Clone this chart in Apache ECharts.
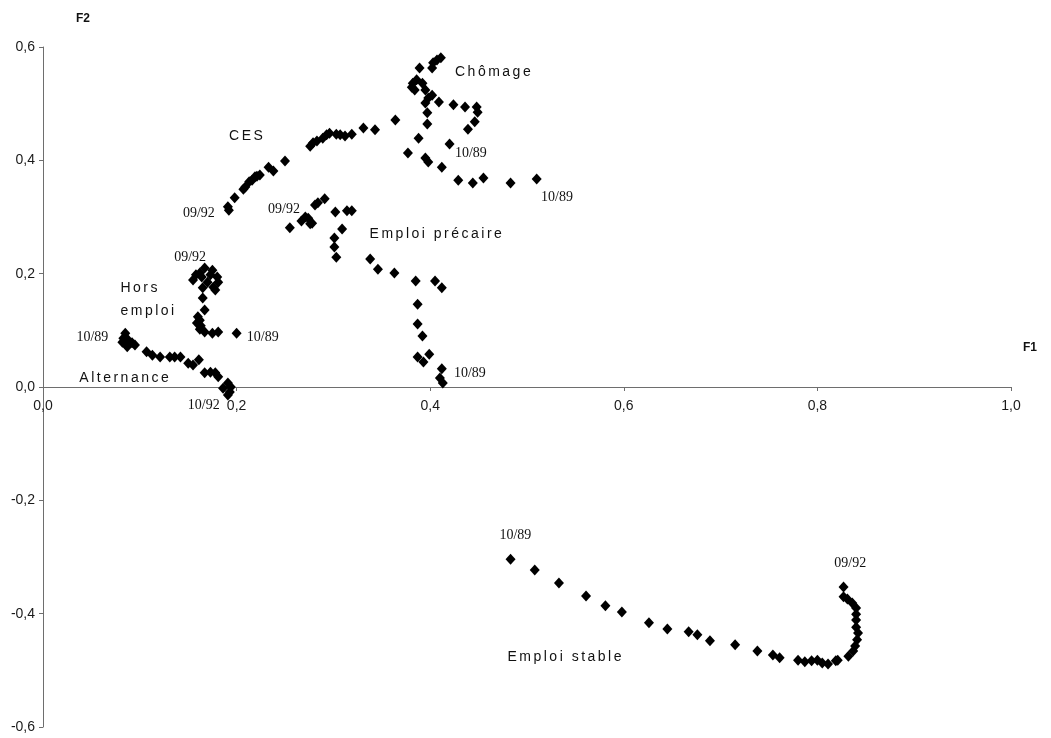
<!DOCTYPE html>
<html>
<head>
<meta charset="utf-8">
<script src="https://cdn.jsdelivr.net/npm/echarts@6/dist/echarts.min.js"></script>
<style>
  html, body { margin: 0; padding: 0; background: #fff; }
  #chart { width: 1051px; height: 738px; }
</style>
</head>
<body>
<div id="chart"></div>
<script>
// Axis ticks (F1 horizontal, F2 vertical)
const xTicks = [0, 0.2, 0.4, 0.6, 0.8, 1.0];
const yTicks = [-0.6, -0.4, -0.2, 0, 0.2, 0.4, 0.6];

// Monthly trajectories 10/89 -> 09/92, coordinates on the factorial plane [F1, F2]
const chomage = [
  [0.420, 0.429], [0.439, 0.455], [0.446, 0.468], [0.449, 0.485], [0.448, 0.494],
  [0.436, 0.494], [0.424, 0.498], [0.409, 0.503], [0.397, 0.464], [0.397, 0.484],
  [0.395, 0.501], [0.398, 0.510], [0.402, 0.515], [0.395, 0.524], [0.384, 0.524],
  [0.381, 0.529], [0.382, 0.536], [0.386, 0.542], [0.392, 0.536], [0.389, 0.563],
  [0.402, 0.563], [0.403, 0.572], [0.407, 0.577], [0.411, 0.581]
];
const ces = [
  [0.510, 0.367], [0.483, 0.360], [0.455, 0.369], [0.444, 0.360], [0.429, 0.365],
  [0.412, 0.388], [0.398, 0.397], [0.395, 0.404], [0.377, 0.413], [0.388, 0.439],
  [0.364, 0.471], [0.343, 0.454], [0.331, 0.457], [0.319, 0.446], [0.312, 0.443],
  [0.307, 0.445], [0.303, 0.446], [0.296, 0.448], [0.293, 0.445], [0.289, 0.439],
  [0.283, 0.434], [0.279, 0.431], [0.276, 0.425], [0.250, 0.399], [0.238, 0.381],
  [0.233, 0.388], [0.224, 0.374], [0.221, 0.372], [0.219, 0.371], [0.216, 0.365],
  [0.213, 0.362], [0.209, 0.353], [0.207, 0.349], [0.198, 0.334], [0.192, 0.312],
  [0.191, 0.318]
];
const emploiPrecaire = [
  [0.412, 0.032], [0.410, 0.016], [0.413, 0.007], [0.399, 0.058], [0.393, 0.044],
  [0.387, 0.053], [0.392, 0.090], [0.387, 0.111], [0.387, 0.146], [0.412, 0.175],
  [0.405, 0.187], [0.385, 0.187], [0.363, 0.201], [0.346, 0.208], [0.338, 0.226],
  [0.303, 0.229], [0.301, 0.247], [0.301, 0.263], [0.309, 0.279], [0.319, 0.311],
  [0.314, 0.311], [0.302, 0.309], [0.291, 0.332], [0.284, 0.325], [0.281, 0.321],
  [0.278, 0.289], [0.276, 0.288], [0.274, 0.298], [0.271, 0.300], [0.267, 0.293],
  [0.255, 0.281]
];
const horsEmploi = [
  [0.200, 0.095], [0.181, 0.097], [0.175, 0.095], [0.167, 0.097], [0.162, 0.102],
  [0.163, 0.108], [0.159, 0.113], [0.162, 0.118], [0.160, 0.124], [0.167, 0.136],
  [0.165, 0.157], [0.178, 0.171], [0.165, 0.175], [0.176, 0.176], [0.170, 0.185],
  [0.181, 0.185], [0.155, 0.189], [0.180, 0.194], [0.164, 0.194], [0.158, 0.198],
  [0.173, 0.198], [0.162, 0.201], [0.175, 0.206], [0.167, 0.210]
];
const alternance = [
  [0.085, 0.095], [0.083, 0.086], [0.082, 0.079], [0.088, 0.083], [0.092, 0.078],
  [0.095, 0.074], [0.087, 0.071], [0.107, 0.062], [0.113, 0.056], [0.121, 0.053],
  [0.131, 0.053], [0.136, 0.053], [0.142, 0.053], [0.150, 0.042], [0.155, 0.039],
  [0.161, 0.048], [0.167, 0.025], [0.173, 0.026], [0.178, 0.025], [0.181, 0.018],
  [0.194, 0.000], [0.191, 0.007], [0.186, -0.002], [0.193, -0.009], [0.191, -0.014]
];
const emploiStable = [
  [0.483, -0.304], [0.508, -0.323], [0.533, -0.346], [0.561, -0.369], [0.581, -0.386],
  [0.598, -0.397], [0.626, -0.416], [0.645, -0.427], [0.667, -0.432], [0.676, -0.437],
  [0.689, -0.448], [0.715, -0.455], [0.738, -0.466], [0.754, -0.473], [0.761, -0.478],
  [0.780, -0.482], [0.787, -0.485], [0.794, -0.483], [0.800, -0.482], [0.805, -0.487],
  [0.811, -0.489], [0.819, -0.483], [0.821, -0.482], [0.832, -0.475], [0.837, -0.466],
  [0.839, -0.457], [0.841, -0.446], [0.842, -0.434], [0.840, -0.424], [0.840, -0.411],
  [0.840, -0.401], [0.840, -0.390], [0.836, -0.381], [0.831, -0.374], [0.827, -0.370],
  [0.827, -0.353]
];

// Series captions get wide tracking; every other text is drawn with normal spacing.
const TRACKED = new Set(['Chômage', 'CES', 'Emploi précaire', 'Hors', 'emploi', 'Alternance', 'Emploi stable']);
const rawFillText = CanvasRenderingContext2D.prototype.fillText;
CanvasRenderingContext2D.prototype.fillText = function (text) {
  if ('letterSpacing' in this) {
    this.letterSpacing = TRACKED.has(String(text)) ? '2.5px' : '0px';
  }
  rawFillText.apply(this, arguments);
  if ('letterSpacing' in this) this.letterSpacing = '0px';
};

const captionStyle = {
  fontFamily: "'Liberation Sans', Arial, sans-serif", fontSize: 14, color: '#111'
};
const dateStyle = {
  fontFamily: "'Liberation Serif', 'Times New Roman', serif", fontSize: 14, color: '#111'
};

function note(text, x, y, style, extra) {
  return {
    coord: [x, y],
    symbol: 'rect',
    symbolSize: 0,
    itemStyle: { color: 'transparent' },
    label: Object.assign({ show: true, position: 'inside', formatter: text }, style, extra || {})
  };
}

function trajectory(name, data, notes) {
  return {
    name: name,
    type: 'scatter',
    data: data,
    symbol: 'diamond',
    symbolSize: [10, 11],
    itemStyle: { color: '#000', opacity: 1 },
    emphasis: { disabled: true },
    markPoint: { silent: true, animation: false, data: notes }
  };
}

// Decimal comma, and no "-0,0" from floating-point tick steps
const tickFmt = v => (Math.abs(v) < 1e-9 ? 0 : v).toFixed(1).replace('.', ',');

const GRID = { left: 43, right: 40, top: 47, bottom: 11 };
const plotHeight = 738 - GRID.top - GRID.bottom;
const yMin = yTicks[0];
const yMax = yTicks[yTicks.length - 1];
// The F1 axis runs through F2 = 0: shift it up from the grid's bottom edge
const xAxisOffset = -plotHeight * (0 - yMin) / (yMax - yMin);

const chart = echarts.init(document.getElementById('chart'), null, { renderer: 'canvas' });

chart.setOption({
  animation: false,
  backgroundColor: '#fff',
  grid: Object.assign({ containLabel: false, outerBoundsMode: 'none' }, GRID),
  xAxis: {
    type: 'value',
    position: 'bottom',
    offset: xAxisOffset,
    min: xTicks[0],
    max: xTicks[xTicks.length - 1],
    interval: xTicks[1] - xTicks[0],
    name: 'F1',
    nameLocation: 'end',
    nameGap: 12,
    nameTextStyle: {
      fontFamily: 'Arial', fontWeight: 'bold', fontSize: 12, color: '#111',
      verticalAlign: 'bottom', padding: [0, 0, 33, 0]
    },
    axisLine: { show: true, onZero: false, lineStyle: { color: '#6e6e6e', width: 1 } },
    axisTick: { show: true, length: 4, lineStyle: { color: '#6e6e6e' } },
    axisLabel: { margin: 12, formatter: tickFmt, fontFamily: 'Arial', fontSize: 14, color: '#1a1a1a' },
    splitLine: { show: false }
  },
  yAxis: {
    type: 'value',
    min: yMin,
    max: yMax,
    interval: yTicks[1] - yTicks[0],
    name: 'F2',
    nameLocation: 'end',
    nameGap: 22,
    nameTextStyle: {
      fontFamily: 'Arial', fontWeight: 'bold', fontSize: 12, color: '#111',
      align: 'left', padding: [0, 0, 0, 33]
    },
    axisLine: { show: true, onZero: false, lineStyle: { color: '#6e6e6e', width: 1 } },
    axisTick: { show: true, length: 4, lineStyle: { color: '#6e6e6e' } },
    axisLabel: { margin: 8, formatter: tickFmt, fontFamily: 'Arial', fontSize: 14, color: '#1a1a1a' },
    splitLine: { show: false }
  },
  series: [
    trajectory('Chômage', chomage, [
      note('Chômage', 0.466, 0.556, captionStyle),
      note('09/92', 0.434, 0.604, dateStyle),
      note('10/89', 0.442, 0.413, dateStyle)
    ]),
    trajectory('CES', ces, [
      note('CES', 0.211, 0.443, captionStyle),
      note('09/92', 0.161, 0.307, dateStyle),
      note('10/89', 0.531, 0.335, dateStyle)
    ]),
    trajectory('Emploi précaire', emploiPrecaire, [
      note('Emploi précaire', 0.407, 0.270, captionStyle),
      note('09/92', 0.249, 0.314, dateStyle),
      note('10/89', 0.441, 0.025, dateStyle)
    ]),
    trajectory('Hors emploi', horsEmploi, [
      note('Hors\nemploi', 0.080, 0.154, captionStyle, { align: 'left', lineHeight: 23 }),
      note('09/92', 0.152, 0.229, dateStyle),
      note('10/89', 0.227, 0.088, dateStyle)
    ]),
    trajectory('Alternance', alternance, [
      note('Alternance', 0.085, 0.016, captionStyle),
      note('10/89', 0.051, 0.088, dateStyle),
      note('10/92', 0.166, -0.032, dateStyle)
    ]),
    trajectory('Emploi stable', emploiStable, [
      note('Emploi stable', 0.540, -0.476, captionStyle),
      note('10/89', 0.488, -0.261, dateStyle),
      note('09/92', 0.834, -0.312, dateStyle)
    ])
  ]
});
</script>
</body>
</html>
